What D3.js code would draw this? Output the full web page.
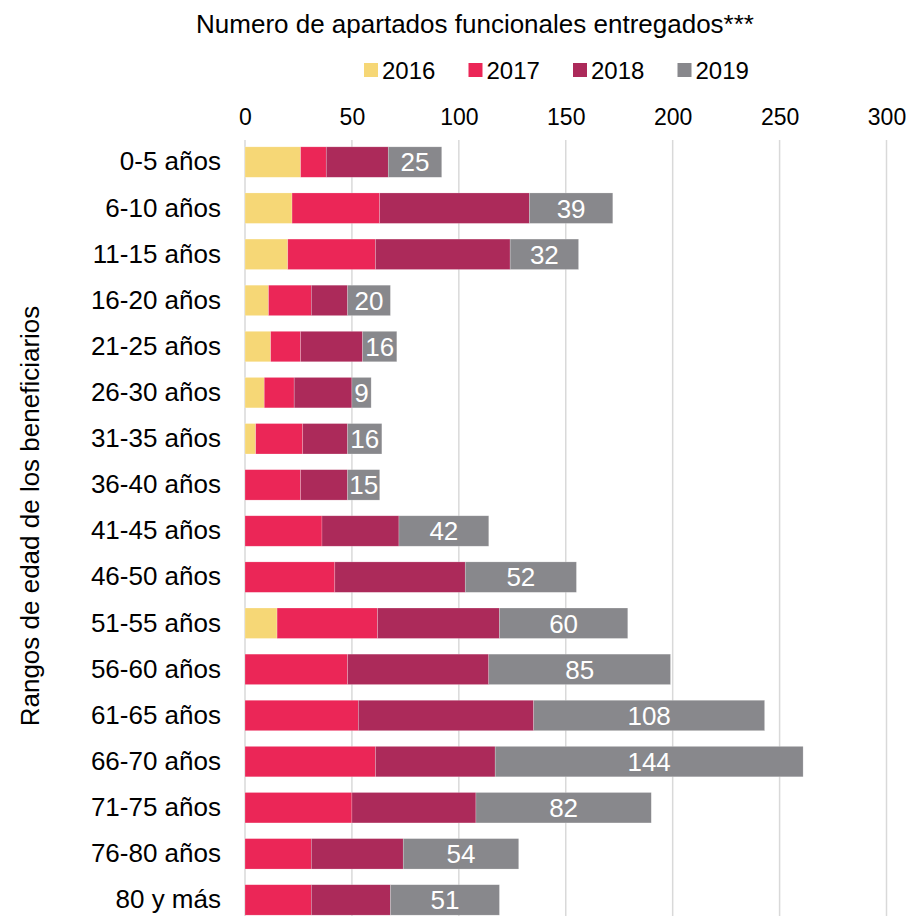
<!DOCTYPE html>
<html>
<head>
<meta charset="utf-8">
<script src="https://cdn.jsdelivr.net/npm/d3@7"></script>
<style>
  body { margin: 0; background: #fff; }
  svg text { font-family: "Liberation Sans", Arial, sans-serif; fill: #000; }
</style>
</head>
<body>
<div id="chart"></div>
<script>
// age ranges of beneficiaries (top to bottom)
const categories = ["0-5 años", "6-10 años", "11-15 años", "16-20 años", "21-25 años",
    "26-30 años", "31-35 años", "36-40 años", "41-45 años", "46-50 años", "51-55 años",
    "56-60 años", "61-65 años", "66-70 años", "71-75 años", "76-80 años", "80 y más"];

const years = ["2016", "2017", "2018", "2019"];

// values
const v2016 = [26, 22, 20, 11, 12, 9, 5, 0, 0, 0, 15, 0, 0, 0, 0, 0, 0];
const v2017 = [12, 41, 41, 20, 14, 14, 22, 26, 36, 42, 47, 48, 53, 61, 50, 31, 31];
const v2018 = [29, 70, 63, 17, 29, 27, 21, 22, 36, 61, 57, 66, 82, 56, 58, 43, 37];
const v2019 = [25, 39, 32, 20, 16, 9, 16, 15, 42, 52, 60, 85, 108, 144, 82, 54, 51];

const xTicks = [0, 50, 100, 150, 200, 250, 300];
const colors = ["#f6d776", "#eb2657", "#ac2a5a", "#88888c"];

const width = 906, height = 916;

const svg = d3.select("#chart")
    .append("svg")
    .attr("width", width)
    .attr("height", height);

// build rows for the stack
const rows = categories.map((c, i) => ({
    cat: c, "2016": v2016[i], "2017": v2017[i], "2018": v2018[i], "2019": v2019[i]
}));
const stacked = d3.stack().keys(years)(rows);

const x = d3.scaleLinear().domain([0, 300]).range([245, 886.5]);
const y = d3.scaleBand().domain(categories).range([139, 923]).paddingInner(0.34).paddingOuter(0.17);

// gridlines
svg.append("g")
    .selectAll("line")
    .data(xTicks)
    .enter().append("line")
    .attr("x1", d => x(d)).attr("x2", d => x(d))
    .attr("y1", 140).attr("y2", height)
    .attr("stroke", "#d9d9d9")
    .attr("stroke-width", 1.5);

// top axis labels
const xAxis = svg.append("g")
    .attr("transform", "translate(0,124.5)")
    .call(d3.axisTop(x).tickValues(xTicks).tickSize(0).tickPadding(0));
xAxis.select(".domain").remove();
xAxis.selectAll("text").style("font-size", "23px").attr("fill", "#000");

// bars
const layers = svg.append("g")
    .selectAll("g")
    .data(stacked)
    .enter().append("g")
    .attr("fill", (d, i) => colors[i]);

layers.selectAll("rect")
    .data(d => d.map(s => ({ s: s, cat: s.data.cat })))
    .enter().append("rect")
    .attr("x", d => x(d.s[0]))
    .attr("y", d => y(d.cat))
    .attr("width", d => x(d.s[1]) - x(d.s[0]))
    .attr("height", y.bandwidth())
    .attr("stroke", "#ffffff")
    .attr("stroke-opacity", 0.35)
    .attr("stroke-width", 0.6);

// 2019 value labels
const last = stacked[3];
svg.append("g")
    .selectAll("text")
    .data(last)
    .enter().append("text")
    .attr("x", d => (x(d[0]) + x(d[1])) / 2)
    .attr("y", d => y(d.data.cat) + y.bandwidth() / 2)
    .attr("dy", "0.36em")
    .attr("text-anchor", "middle")
    .style("font-size", "26px")
    .style("fill", "#fff")
    .text(d => d[1] - d[0]);

// category labels
const yAxis = svg.append("g")
    .attr("transform", "translate(221,0)")
    .call(d3.axisLeft(y).tickSize(0).tickPadding(0));
yAxis.select(".domain").remove();
yAxis.selectAll("text").style("font-size", "26px").attr("fill", "#000");

// axis title
svg.append("text")
    .attr("transform", "translate(39,516) rotate(-90)")
    .attr("text-anchor", "middle")
    .style("font-size", "26px")
    .text("Rangos de edad de los beneficiarios");

// chart title
svg.append("text")
    .attr("x", 475)
    .attr("y", 33)
    .attr("text-anchor", "middle")
    .style("font-size", "26px")
    .text("Numero de apartados funcionales entregados***");

// legend
const legend = svg.append("g")
    .selectAll("g")
    .data(years)
    .enter().append("g")
    .attr("transform", (d, i) => "translate(" + (364 + i * 104.5) + ",63)");
legend.append("rect")
    .attr("width", 14).attr("height", 14)
    .attr("fill", (d, i) => colors[i]);
legend.append("text")
    .attr("x", 18).attr("y", 16)
    .style("font-size", "24px")
    .text(d => d);
</script>
</body>
</html>
